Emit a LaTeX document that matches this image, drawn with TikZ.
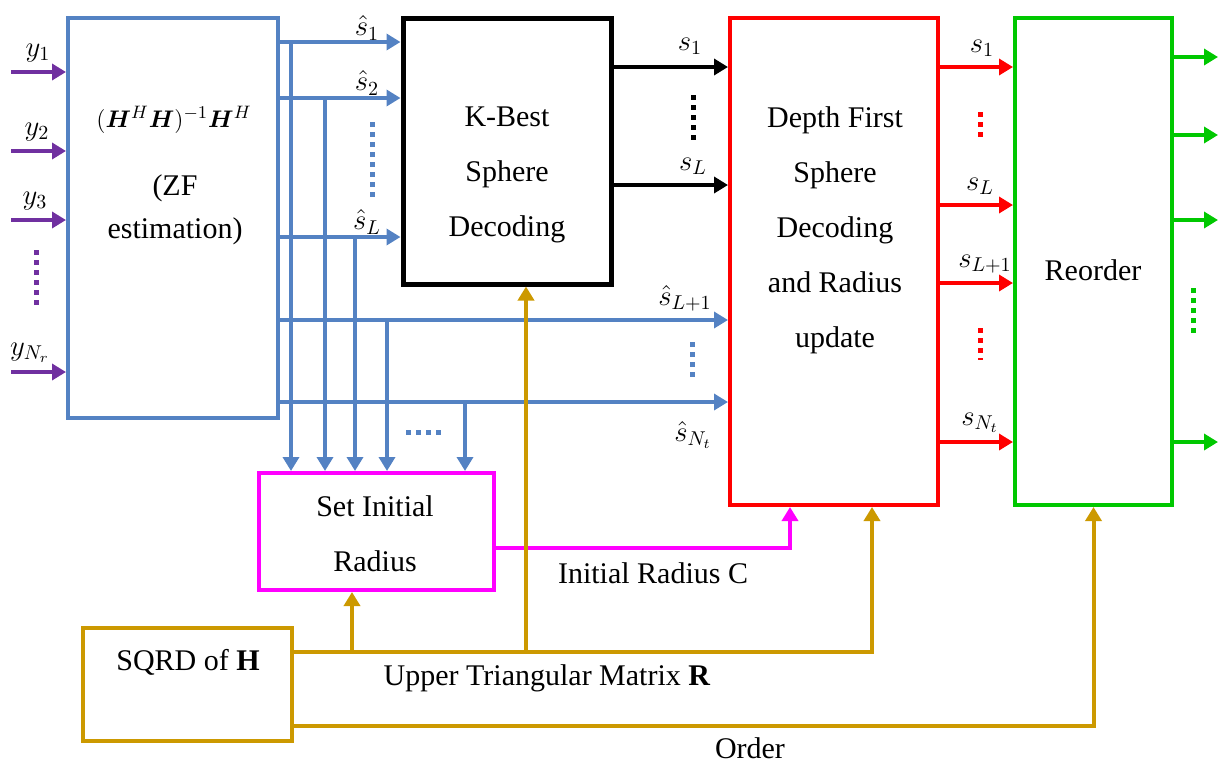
\documentclass[tikz,border=0pt]{standalone}
\usepackage{fontspec}
\setmainfont{Liberation Serif}
\usepackage{amsmath,amssymb,bm}
\usetikzlibrary{positioning, calc, arrows.meta}

\definecolor{zfblue}{RGB}{84,130,195}
\definecolor{inpurple}{RGB}{112,48,160}
\definecolor{qrgold}{RGB}{204,153,0}
\definecolor{dfred}{RGB}{255,0,0}
\definecolor{rogreen}{RGB}{0,200,0}
\definecolor{radmag}{RGB}{255,0,255}

\begin{document}
\begin{tikzpicture}[x=0.5pt, y=-0.5pt,
        % Style for the processing blocks
        blockbox/.style={
            draw,
            line width=2pt,
            inner sep=0pt
        },
        % Style for the text inside blocks
        blocktext/.style={
            align=center,
            font=\fontsize{15}{27.5}\selectfont
        },
        % Style for signal arrows
        sigline/.style={
            line width=2pt,
            -{Triangle[length=7pt,width=8pt]}
        },
        % Style for the dotted "more signals" marks
        dotline/.style={
            line width=2.5pt,
            dash pattern=on 2.5pt off 2.5pt
        },
        % Style for the signal labels
        siglabel/.style={
            font=\fontsize{14.5}{14.5}\selectfont,
            inner sep=0pt
        }
    ]
    \useasboundingbox (0,0) rectangle (1226,766);

    % ==========================================
    % BLOCKS
    % ==========================================
    \node[blockbox, zfblue, minimum width=105pt, minimum height=200pt] (zf) at (173,218) {};
    \node[blockbox, black, line width=2.5pt, minimum width=104pt, minimum height=133pt] (kb) at (507,151) {};
    \node[blockbox, dfred, minimum width=104pt, minimum height=243.5pt] (df) at (834,261.5) {};
    \node[blockbox, rogreen, minimum width=78.5pt, minimum height=243.5pt] (ro) at (1093.5,261.5) {};
    \node[blockbox, radmag, minimum width=117.5pt, minimum height=58.5pt] (sir) at (376.5,531.5) {};
    \node[blockbox, qrgold, minimum width=104.5pt, minimum height=56.5pt] (sq) at (187.5,684.5) {};

    % Block texts
    \node[blocktext, font=\fontsize{12.5}{14}\selectfont] (zfeq) at (174,120) {$(\boldsymbol{H}^H\boldsymbol{H})^{-1}\boldsymbol{H}^H$};
    \node[blocktext, font=\fontsize{15}{21.5}\selectfont] (zftxt) at (175,210) {(ZF\\estimation)};
    \node[blocktext] (kbtxt) at (507,175) {K-Best\\Sphere\\Decoding};
    \node[blocktext] (dftxt) at (835,230) {Depth First\\Sphere\\Decoding\\and Radius\\update};
    \node[blocktext] (rotxt) at (1093,270) {Reorder};
    \node[blocktext] (sirtxt) at (375,534) {Set Initial\\Radius};
    \node[blocktext] (sqtxt) at (188,662) {SQRD of \textbf{H}};

    % ==========================================
    % INPUTS y
    % ==========================================
    \foreach \yy/\lab/\lx in {72/y_1/38, 151/y_2/37, 220/y_3/35, 372/y_{N_r}/30} {
        \coordinate (yin\yy) at (11,\yy);
        \draw[sigline, inpurple] (yin\yy) -- (zf.west |- yin\yy);
        \node[siglabel] at (\lx,\yy-19) {$\lab$};
    }
    \draw[dotline, inpurple] (36,250) -- (36,307);

    % ==========================================
    % ZF OUTPUTS
    % ==========================================
    \coordinate (r1) at (0,42);
    \coordinate (r2) at (0,98);
    \coordinate (rL) at (0,237);
    \coordinate (rL1) at (0,320);
    \coordinate (rN) at (0,402);
    \draw[sigline, zfblue] (zf.east |- r1) -- (kb.west |- r1);
    \draw[sigline, zfblue] (zf.east |- r2) -- (kb.west |- r2);
    \draw[sigline, zfblue] (zf.east |- rL) -- (kb.west |- rL);
    \draw[sigline, zfblue] (zf.east |- rL1) -- (df.west |- rL1);
    \draw[sigline, zfblue] (zf.east |- rN) -- (df.west |- rN);

    % taps down to the radius block
    \foreach \col/\row in {291/42, 325/98, 355/237, 387/320, 465/402} {
        \coordinate (tap\col) at (\col,\row);
        \draw[sigline, zfblue] (tap\col) -- (sir.north -| tap\col);
    }

    \node[siglabel] at (367,28) {$\hat{s}_1$};
    \node[siglabel] at (367,83) {$\hat{s}_2$};
    \node[siglabel] at (367,222) {$\hat{s}_L$};
    \node[siglabel] at (685,298) {$\hat{s}_{L+1}$};
    \node[siglabel] at (693,435) {$\hat{s}_{N_t}$};
    \draw[dotline, zfblue] (372,122) -- (372,198);
    \draw[dotline, zfblue] (692,342) -- (692,378);
    \draw[dotline, zfblue] (406,432) -- (442,432);

    % ==========================================
    % K-BEST OUTPUTS
    % ==========================================
    \coordinate (k1) at (0,67);
    \coordinate (kL) at (0,185);
    \draw[sigline, black] (kb.east |- k1) -- (df.west |- k1);
    \draw[sigline, black] (kb.east |- kL) -- (df.west |- kL);
    \node[siglabel] at (690,46) {$s_1$};
    \node[siglabel] at (693,166) {$s_L$};
    \draw[dotline, black] (693,95) -- (693,140);

    % ==========================================
    % DEPTH FIRST OUTPUTS
    % ==========================================
    \foreach \yy/\lab/\lx in {67/s_1/982, 205/s_L/980, 283/s_{L+1}/985, 442/s_{N_t}/980} {
        \coordinate (d\yy) at (0,\yy);
        \draw[sigline, dfred] (df.east |- d\yy) -- (ro.west |- d\yy);
        \node[siglabel] at (\lx,\yy-19) {$\lab$};
    }
    \draw[dotline, dfred] (980,112) -- (980,137);
    \draw[dotline, dfred] (980,328) -- (980,360);

    % ==========================================
    % REORDER OUTPUTS
    % ==========================================
    \foreach \yy in {57, 135, 220, 442} {
        \coordinate (out\yy) at (1218,\yy);
        \draw[sigline, rogreen] (ro.east |- out\yy) -- (out\yy);
    }
    \draw[dotline, rogreen] (1193,288) -- (1193,335);

    % ==========================================
    % RADIUS AND QR CONNECTIONS
    % ==========================================
    \coordinate (mrow) at (0,548);
    \coordinate (mcol) at (790,0);
    \draw[sigline, radmag] (sir.east |- mrow) -| (df.south -| mcol);
    \node[blocktext] (crad) at (653,573) {Initial Radius C};

    \coordinate (rbus) at (0,652);
    \coordinate (obus) at (0,726);
    \coordinate (b1) at (352,652);
    \coordinate (b2) at (526,652);
    \coordinate (b3) at (872,652);
    \draw[sigline, qrgold] (sq.east |- rbus) -| (df.south -| b3);
    \draw[sigline, qrgold] (b1) -- (sir.south -| b1);
    \draw[sigline, qrgold] (b2) -- (kb.south -| b2);
    \draw[sigline, qrgold] (sq.east |- obus) -| (ro.south);
    \node[blocktext] (rlab) at (547,678) {Upper Triangular Matrix \textbf{R}};
    \node[blocktext] (olab) at (750,748) {Order};
\end{tikzpicture}
\end{document}
